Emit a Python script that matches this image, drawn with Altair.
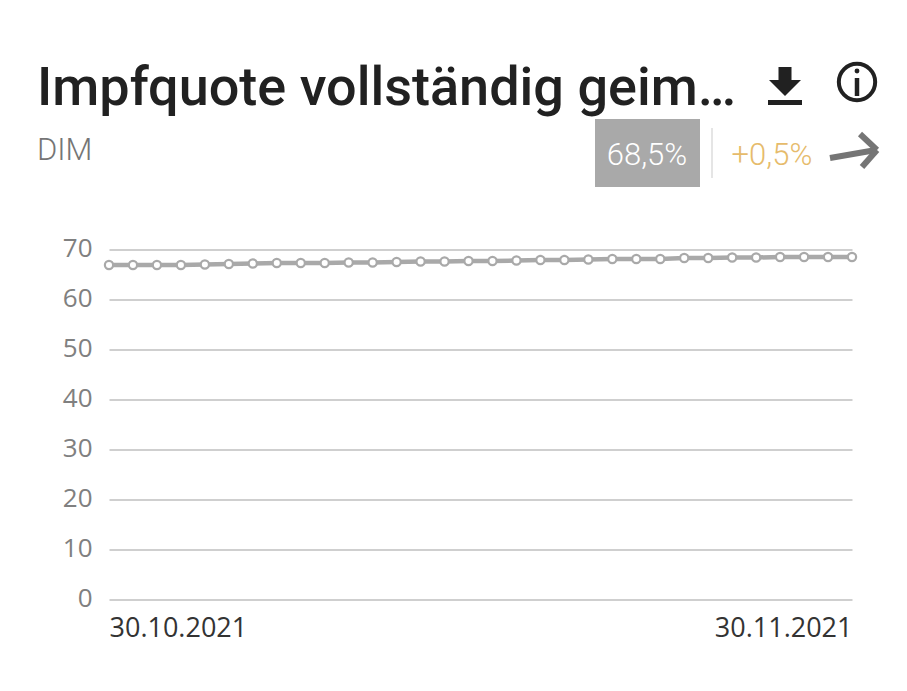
import altair as alt
import pandas as pd

dates = ["30.10.2021", "31.10.2021"] + [f"{d:02d}.11.2021" for d in range(1, 31)]
values = [66.9, 66.9, 66.9, 66.9, 67.0, 67.1, 67.2, 67.3, 67.3, 67.3, 67.4,
          67.4, 67.5, 67.6, 67.6, 67.7, 67.7, 67.8, 67.9, 67.9, 68.0, 68.1,
          68.1, 68.1, 68.3, 68.3, 68.4, 68.4, 68.5, 68.5, 68.5, 68.5]
x_ticks = ["30.10.2021", "30.11.2021"]
y_ticks = [0, 10, 20, 30, 40, 50, 60, 70]
title = "Impfquote vollständig geim…"
subtitle = "DIM"
badge = "68,5%"
delta = "+0,5%"

GREY = "#a9a9a9"
OX, OY = 109, 249.5
df = pd.DataFrame({"date": dates, "value": values})
one = pd.DataFrame({"k": [0]})


def px(x):
    return alt.value(x - OX)


def py(y):
    return alt.value(y - OY)


def label(text, x, y, size, color, font="Roboto", weight=400, align="left"):
    return alt.Chart(one).mark_text(
        text=text, font=font, fontSize=size, fontWeight=weight, color=color,
        align=align, baseline="alphabetic").encode(x=px(x), y=py(y))


def seg(x1, y1, x2, y2, color, w):
    return alt.Chart(one).mark_rule(color=color, strokeWidth=w).encode(
        x=px(x1), x2=px(x2), y=py(y1), y2=py(y2))


x_enc = alt.X("date:O", sort=None, title=None,
              scale=alt.Scale(type="point", padding=0, domain=dates),
              axis=alt.Axis(values=x_ticks, labelAngle=0, labelFlush=True, labelOverlap=False,
                            domain=False, ticks=False, grid=False, labelFont="Open Sans",
                            labelFontSize=27, labelColor="#333333", labelPadding=16))
y_enc = alt.Y("value:Q", title=None, scale=alt.Scale(domain=[0, 70], nice=False),
              axis=alt.Axis(values=y_ticks, domain=False, ticks=False, grid=True,
                            gridColor="#cfcfcf", gridWidth=2, labelFont="Open Sans",
                            labelFontSize=26, labelColor="#808080", labelPadding=17,
                            labelOffset=-1.5))

line = alt.Chart(df).mark_line(color=GREY, strokeWidth=4.5, clip=False).encode(x=x_enc, y=y_enc)
dots = alt.Chart(df).mark_point(filled=True, fill="white", stroke=GREY, strokeWidth=2.2,
                                size=68, opacity=1, clip=False).encode(x=x_enc, y=y_enc)

download = alt.Chart(one).mark_point(
    shape="M-.325 -.95 H.325 V-.3 H.8 L0 .5 L-.8 -.3 H-.325Z M-.85 .7 H.85 V.95 H-.85Z",
    size=1600, filled=True, fill="#212121", stroke=None, opacity=1).encode(x=px(785), y=py(86))
info_ring = alt.Chart(one).mark_point(shape="circle", size=1320, filled=False, stroke="#212121",
                                      strokeWidth=4, opacity=1).encode(x=px(857), y=py(82))
info_dot = alt.Chart(one).mark_point(shape="circle", size=24, filled=True, fill="#212121",
                                     stroke=None, opacity=1).encode(x=px(857), y=py(71))
badge_box = alt.Chart(one).mark_rect(color=GREY).encode(x=px(595), x2=px(700), y=py(119), y2=py(187))

chart = alt.layer(
    line, dots,
    label(title, 37, 105, 54, "#212121", weight=500),
    label(subtitle, 37, 160, 31, "#757575", weight=300),
    download, info_ring, info_dot,
    seg(857, 78, 857, 96, "#212121", 4.5),
    badge_box,
    label(badge, 647, 165, 31, "#ffffff", weight=300, align="center"),
    seg(712, 128, 712, 178, "#dddddd", 1.5),
    label(delta, 772, 165, 31, "#e6bb6b", weight=300, align="center"),
    seg(830, 158, 876, 150, "#757575", 6),
    seg(860, 134, 877, 150, "#757575", 6),
    seg(862, 167, 877, 150, "#757575", 6),
).properties(
    width=743, height=350,
    padding={"left": 101, "top": 241.5, "right": 47, "bottom": 75},
    autosize=alt.AutoSizeParams(type="none"),
    background="white",
).configure_view(stroke=None)

chart.save("out.html", embed_options={"renderer": "svg", "actions": False})
